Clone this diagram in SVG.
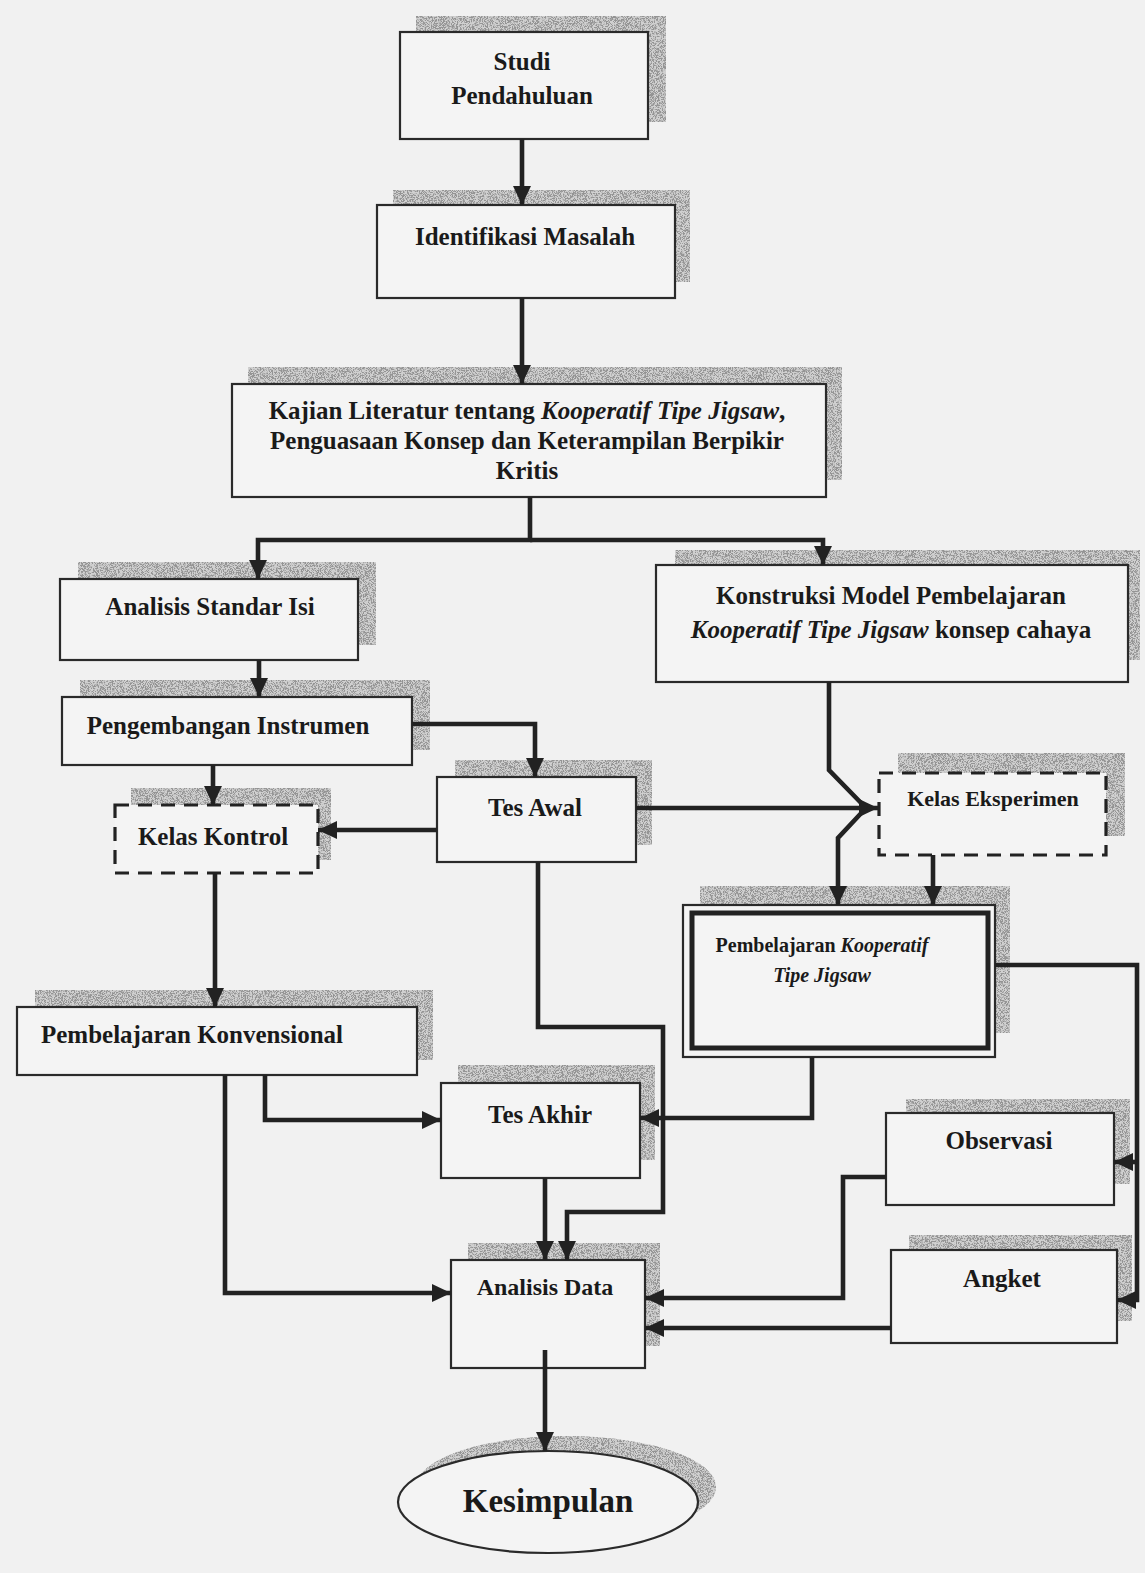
<svg xmlns="http://www.w3.org/2000/svg" width="1145" height="1573" viewBox="0 0 1145 1573">
<defs>
<style>
.bg{fill:#f1f1f1}
.box{fill:#f4f4f4;stroke:#2a2a2a;stroke-width:2.2}
.dash{fill:#f4f4f4;stroke:#222;stroke-width:3.2;stroke-dasharray:14 9}
.sh{fill:#d0d0d0;filter:url(#grain)}
.t{font-family:"Liberation Serif","Times New Roman",serif;font-weight:bold;fill:#1a1a1a;text-anchor:middle}
.i{font-style:italic}
.c{fill:none;stroke:#222;stroke-width:4.6;stroke-linejoin:miter}
.a{marker-end:url(#ah)}
</style>
<filter id="grain" x="0" y="0" width="100%" height="100%">
<feTurbulence type="fractalNoise" baseFrequency="1.4" numOctaves="2" seed="4" result="n"/>
<feColorMatrix in="n" type="matrix" values="0 0 0 0 0.3  0 0 0 0 0.3  0 0 0 0 0.3  7 0 0 0 -3.1" result="d"/>
<feComposite in="d" in2="SourceAlpha" operator="in" result="dd"/>
<feMerge><feMergeNode in="SourceGraphic"/><feMergeNode in="dd"/></feMerge>
</filter>
<marker id="ah" markerUnits="userSpaceOnUse" markerWidth="22" markerHeight="20" refX="19" refY="9" orient="auto">
<path d="M0,0 L19,9 L0,18 Z" fill="#222"/>
</marker>
</defs>
<rect class="bg" x="0" y="0" width="1145" height="1573"/>

<g id="studi">
<rect class="sh" x="416" y="16" width="250" height="106"/>
<rect class="box" x="400" y="32" width="248" height="107"/>
<text class="t" x="522" y="70" font-size="25">Studi</text>
<text class="t" x="522" y="104" font-size="25">Pendahuluan</text>
</g>

<g id="identifikasi">
<rect class="sh" x="393" y="190" width="297" height="92"/>
<rect class="box" x="377" y="205" width="298" height="93"/>
<text class="t" x="525" y="245" font-size="25">Identifikasi Masalah</text>
</g>

<g id="kajian">
<rect class="sh" x="248" y="367" width="594" height="113"/>
<rect class="box" x="232" y="384" width="594" height="113"/>
<text class="t" x="527" y="419" font-size="25">Kajian Literatur tentang <tspan class="i">Kooperatif Tipe Jigsaw</tspan>,</text>
<text class="t" x="527" y="449" font-size="25">Penguasaan Konsep dan Keterampilan Berpikir</text>
<text class="t" x="527" y="479" font-size="25">Kritis</text>
</g>

<g id="analisis-standar">
<rect class="sh" x="78" y="562" width="298" height="83"/>
<rect class="box" x="60" y="579" width="298" height="81"/>
<text class="t" x="210" y="615" font-size="25">Analisis Standar Isi</text>
</g>

<g id="konstruksi">
<rect class="sh" x="675" y="550" width="465" height="110"/>
<rect class="box" x="656" y="565" width="472" height="117"/>
<text class="t" x="891" y="604" font-size="25">Konstruksi Model Pembelajaran</text>
<text class="t" x="891" y="638" font-size="25"><tspan class="i">Kooperatif Tipe Jigsaw</tspan> konsep cahaya</text>
</g>

<g id="pengembangan">
<rect class="sh" x="80" y="680" width="350" height="70"/>
<rect class="box" x="62" y="697" width="350" height="68"/>
<text class="t" x="228" y="734" font-size="25">Pengembangan Instrumen</text>
</g>

<g id="kelas-kontrol">
<rect class="sh" x="131" y="788" width="200" height="72"/>
<rect class="dash" x="115" y="805" width="203" height="68"/>
<text class="t" x="213" y="845" font-size="25">Kelas Kontrol</text>
</g>

<g id="tes-awal">
<rect class="sh" x="455" y="760" width="197" height="85"/>
<rect class="box" x="437" y="777" width="199" height="85"/>
<text class="t" x="535" y="816" font-size="25">Tes Awal</text>
</g>

<g id="kelas-eksperimen">
<rect class="sh" x="898" y="753" width="227" height="83"/>
<rect class="dash" x="879" y="773" width="227" height="82"/>
<text class="t" x="993" y="806" font-size="22">Kelas Eksperimen</text>
</g>

<g id="pembelajaran-kooperatif">
<rect class="sh" x="700" y="886" width="310" height="147"/>
<rect class="box" x="683" y="905" width="312" height="152" stroke-width="1.6"/>
<rect x="692" y="913" width="296" height="135" fill="#f4f4f4" stroke="#222" stroke-width="5"/>
<text class="t" x="822" y="952" font-size="20">Pembelajaran <tspan class="i">Kooperatif</tspan></text>
<text class="t i" x="822" y="982" font-size="20">Tipe Jigsaw</text>
</g>

<g id="pembelajaran-konvensional">
<rect class="sh" x="35" y="990" width="398" height="70"/>
<rect class="box" x="17" y="1007" width="400" height="68"/>
<text class="t" x="192" y="1043" font-size="25">Pembelajaran Konvensional</text>
</g>

<g id="tes-akhir">
<rect class="sh" x="458" y="1065" width="197" height="95"/>
<rect class="box" x="441" y="1083" width="199" height="95"/>
<text class="t" x="540" y="1123" font-size="25">Tes Akhir</text>
</g>

<g id="observasi">
<rect class="sh" x="906" y="1099" width="224" height="85"/>
<rect class="box" x="886" y="1113" width="228" height="92"/>
<text class="t" x="999" y="1149" font-size="25">Observasi</text>
</g>

<g id="angket">
<rect class="sh" x="909" y="1235" width="223" height="86"/>
<rect class="box" x="891" y="1250" width="226" height="93"/>
<text class="t" x="1002" y="1287" font-size="25">Angket</text>
</g>

<g id="analisis-data">
<rect class="sh" x="468" y="1243" width="192" height="103"/>
<rect class="box" x="451" y="1260" width="194" height="108"/>
<text class="t" x="545" y="1295" font-size="24">Analisis Data</text>
</g>

<g id="kesimpulan">
<ellipse class="sh" cx="566" cy="1487" rx="150" ry="51"/>
<ellipse class="box" cx="548" cy="1502" rx="150" ry="51"/>
<text class="t" x="548" y="1512" font-size="33">Kesimpulan</text>
</g>

<g id="connectors">
<path class="c a" d="M522,139 V205"/>
<path class="c a" d="M522,298 V384"/>
<path class="c a" d="M530,497 V540 H258 V579"/>
<path class="c a" d="M530,540 H823 V565"/>
<path class="c a" d="M259,660 V697"/>
<path class="c a" d="M412,724 H535 V777"/>
<path class="c a" d="M213,765 V805"/>
<path class="c a" d="M437,830 H318"/>
<path class="c a" d="M636,808 H878"/>
<path class="c" d="M829,682 V770 L866,808"/>
<path class="c a" d="M866,808 L838,838 V905"/>
<path class="c a" d="M933,855 V905"/>
<path class="c a" d="M215,873 V1007"/>
<path class="c a" d="M538,862 V1027 H663 V1212 H567 V1260"/>
<path class="c a" d="M812,1057 V1118 H640"/>
<path class="c a" d="M265,1075 V1120 H441"/>
<path class="c a" d="M225,1075 V1293 H451"/>
<path class="c a" d="M545,1178 V1260"/>
<path class="c a" d="M886,1177 H843 V1298 H645"/>
<path class="c a" d="M891,1328 H645"/>
<path class="c a" d="M995,965 H1137 V1300 H1117"/>
<path class="c a" d="M1137,1162 H1114"/>
<path class="c a" d="M545,1350 V1451"/>
</g>
</svg>
